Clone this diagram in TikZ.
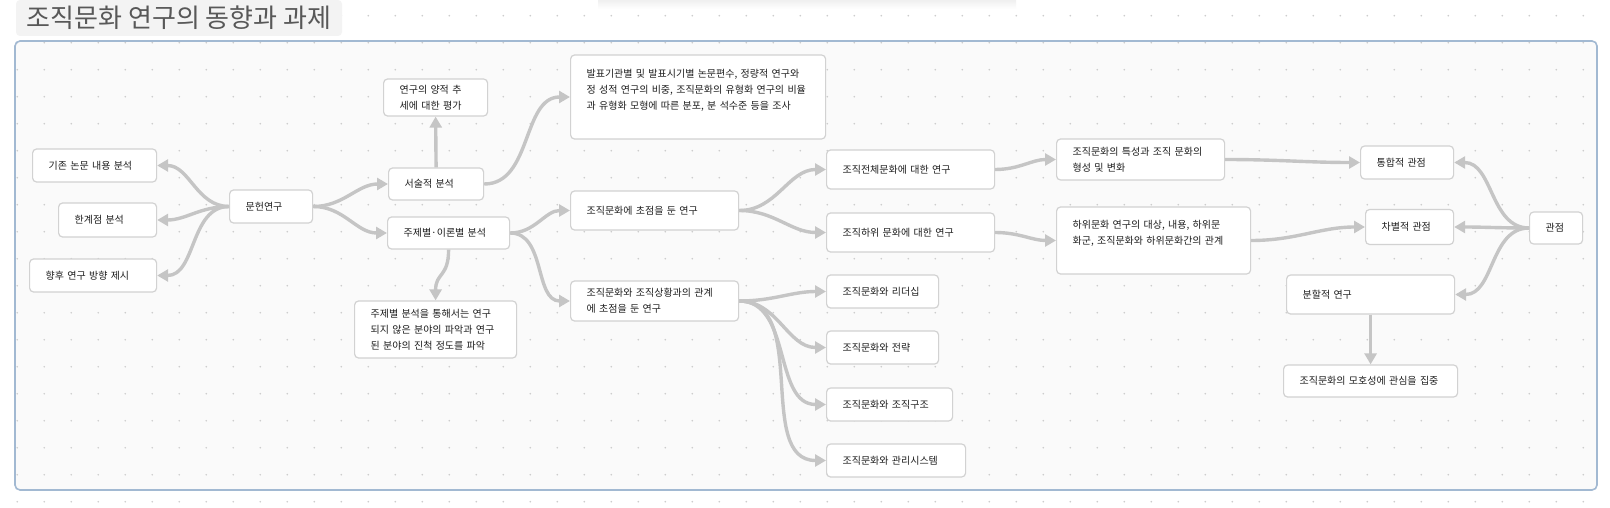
\documentclass[tikz,border=0pt]{standalone}
\usepackage{fontspec}
\setmainfont{Noto Sans CJK KR}
\usepackage{tikz}
\usetikzlibrary{arrows.meta}
\definecolor{linkgray}{RGB}{197,197,197}
\definecolor{boxline}{RGB}{210,210,210}
\definecolor{framecol}{RGB}{162,185,210}
\definecolor{framefill}{RGB}{250,250,250}
\definecolor{dotgray}{RGB}{205,205,205}
\definecolor{titlefill}{RGB}{243,243,243}
\definecolor{titletext}{RGB}{88,88,88}
\definecolor{textcol}{RGB}{30,30,30}
\tikzstyle{box} = [rectangle, rounded corners=4pt, draw=boxline, line width=1.2pt, fill=white, anchor=west, align=left, inner xsep=16pt, inner ysep=2pt, minimum height=33pt, text=textcol, font=\fontsize{10}{16}\selectfont]
\tikzstyle{flow} = [draw=linkgray, line width=3.4pt, -{Triangle[length=11pt,width=12pt]}]

\begin{document}
\begin{tikzpicture}[x=1pt, y=-1pt]
		\useasboundingbox (0,0) rectangle (1610,508);
		\fill[white] (0,0) rectangle (1610,508);
		\shade[top color=black!6, bottom color=white] (598,0) rectangle (1016,9);
		\fill[framefill, rounded corners=5pt] (15,41) rectangle (1597,490);
		\foreach \i in {0,...,58} {
			\foreach \j in {0,...,18} {
				\fill[dotgray] (17.3+27*\i, 15.7+27*\j) circle (0.9pt);
			}
		}
		\draw[framecol, line width=1.6pt, rounded corners=5pt] (15,41) rectangle (1597,490);
		\node[fill=titlefill, rounded corners=4pt, minimum width=326pt, minimum height=36pt, text=titletext, font=\fontsize{26}{30}\selectfont] (title) at (179,18) {조직문화 연구의 동향과 과제};
		
		% 문헌연구
		\node[box, text width=92pt] (gijon) at (32,165.5) {기존 논문 내용 분석};
		\node[box, text width=66pt, minimum height=34pt] (hangye) at (58,220) {한계점 분석};
		\node[box, text width=95pt] (hyanghu) at (29,275.5) {향후 연구 방향 제시};
		\node[box, text width=51pt] (munheon) at (229,206.5) {문헌연구};
		\node[box, text width=63pt, minimum height=32pt] (seosul) at (388,184) {서술적 분석};
		\node[box, text width=72pt, minimum height=37pt] (yangjeok) at (383,97.5) {연구의 양적 추\\세에 대한 평가};
		\node[box, text width=90pt, minimum height=32pt] (jujebyeol) at (387,233) {주제별·이론별 분석};
		\node[box, text width=130pt, minimum height=57pt] (jujedetail) at (354,329.5) {주제별 분석을 통해서는 연구\\되지 않은 분야의 파악과 연구\\된 분야의 진척 정도를 파악};
		\node[box, text width=223pt, minimum height=84pt] (balpyo) at (570,97) {발표기관별 및 발표시기별 논문편수, 정량적 연구와\\정 성적 연구의 비중, 조직문화의 유형화 연구의 비율\\과 유형화 모형에 따른 분포, 분 석수준 등을 조사\\\mbox{}};
		\node[box, text width=136pt, minimum height=39pt] (focus) at (570,210.5) {조직문화에 초점을 둔 연구};
		\node[box, text width=136pt, minimum height=40pt] (situation) at (570,301) {조직문화와 조직상황과의 관계\\에 초점을 둔 연구};
		
		% 연구 대상
		\node[box, text width=136pt, minimum height=39pt] (whole) at (826,169.5) {조직전체문화에 대한 연구};
		\node[box, text width=136pt, minimum height=39pt] (sub) at (826,232.5) {조직하위 문화에 대한 연구};
		\node[box, text width=80pt] (leader) at (826,291.5) {조직문화와 리더십};
		\node[box, text width=80pt] (strategy) at (826,347.5) {조직문화와 전략};
		\node[box, text width=94pt] (structure) at (826,404.5) {조직문화와 조직구조};
		\node[box, text width=107pt] (system) at (826,460.5) {조직문화와 관리시스템};
		\node[box, text width=136pt, minimum height=41pt] (trait) at (1056,159.5) {조직문화의 특성과 조직 문화의\\형성 및 변화};
		\node[box, text width=162pt, minimum height=67pt] (subdetail) at (1056,240.5) {하위문화 연구의 대상, 내용, 하위문\\화군, 조직문화와 하위문화간의 관계\\\mbox{}};
		
		% 관점
		\node[box, text width=61pt] (integ) at (1360,162.5) {통합적 관점};
		\node[box, text width=56pt, minimum height=35pt] (diff) at (1365,227) {차별적 관점};
		\node[box, text width=21pt, minimum height=32pt] (view) at (1529,228) {관점};
		\node[box, text width=136pt, minimum height=39pt] (split) at (1286,294.5) {분할적 연구};
		\node[box, text width=142pt, minimum height=32pt] (ambig) at (1283,381) {조직문화의 모호성에 관심을 집중};
		
		\path [flow] (munheon.west) to[out=180,in=0] (gijon.east);
		\path [flow] (munheon.west) to[out=180,in=0] (hangye.east);
		\path [flow] (munheon.west) to[out=180,in=0] (hyanghu.east);
		\path [flow] (munheon.east) to[out=0,in=180] (seosul.west);
		\path [flow] (munheon.east) to[out=0,in=180] (jujebyeol.west);
		\path [flow] (seosul.north) -- (yangjeok.south);
		\path [flow] (seosul.east) to[out=0,in=180] (balpyo.west);
		\path [flow] (jujebyeol.south) .. controls +(0,28) and +(0,-28) .. (jujedetail.north);
		\path [flow] (jujebyeol.east) to[out=0,in=180] (focus.west);
		\path [flow] (jujebyeol.east) to[out=0,in=180] (situation.west);
		\path [flow] (focus.east) to[out=0,in=180] (whole.west);
		\path [flow] (focus.east) to[out=0,in=180] (sub.west);
		\path [flow] (situation.east) to[out=0,in=180] (leader.west);
		\path [flow] (situation.east) to[out=0,in=180] (strategy.west);
		\path [flow] (situation.east) to[out=0,in=180] (structure.west);
		\path [flow] (situation.east) to[out=0,in=180] (system.west);
		\path [flow] (whole.east) to[out=0,in=180] (trait.west);
		\path [flow] (sub.east) to[out=0,in=180] (subdetail.west);
		\path [flow] (trait.east) to[out=0,in=180] (integ.west);
		\path [flow] (subdetail.east) to[out=0,in=180] (diff.west);
		\path [flow] (view.west) to[out=180,in=0] (integ.east);
		\path [flow] (view.west) to[out=180,in=0] (diff.east);
		\path [flow] (view.west) to[out=180,in=0] (split.east);
		\path [flow] (split.south) -- (ambig.north);
		
	\end{tikzpicture}
\end{document}
